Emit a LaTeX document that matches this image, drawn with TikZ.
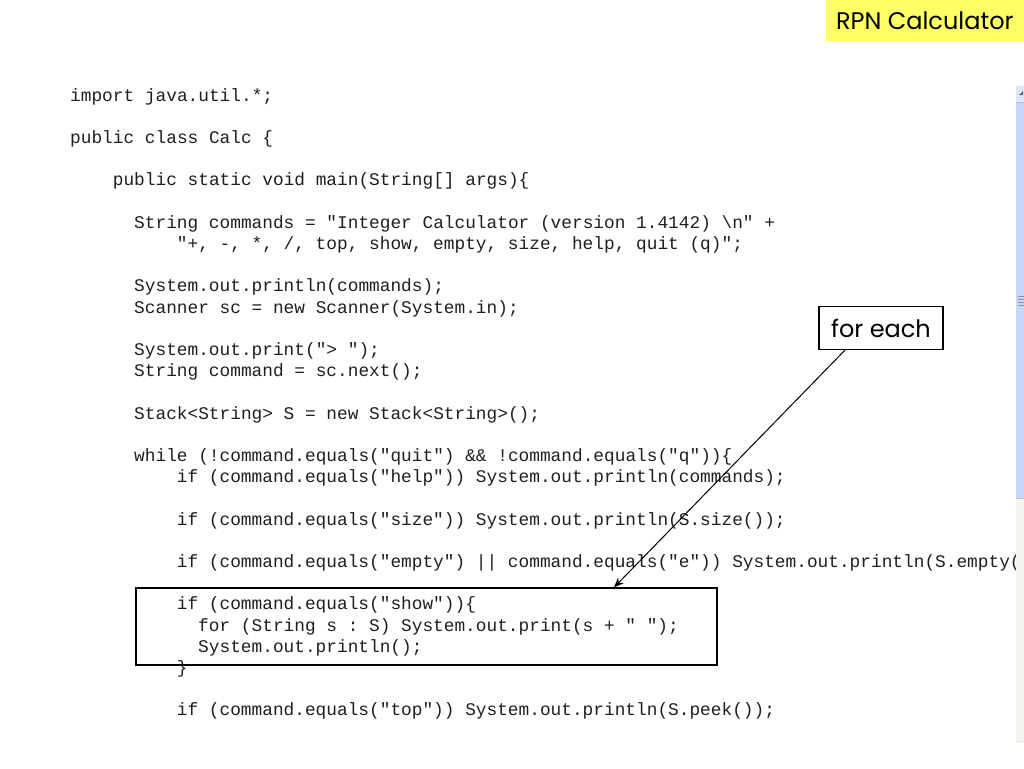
\documentclass[tikz,border=0pt]{standalone}
\usepackage{fontspec}
\setmonofont{Liberation Mono}
\newfontfamily\notefont{Poppins}
\usetikzlibrary{arrows.meta,calc}
\definecolor{hl}{RGB}{255,255,102}
\definecolor{thumb}{RGB}{200,214,248}
\definecolor{track}{RGB}{244,243,238}
\definecolor{btn}{RGB}{222,231,250}
\newcommand{\cx}[1]{70+10.67*#1}
\newcommand{\cy}[1]{101+21.2*#1}
\tikzset{
  code/.style={anchor=base west, inner sep=0pt, font=\ttfamily\fontsize{17.8}{21}\selectfont, text=black!88},
  note/.style={font=\notefont\fontsize{24}{28}\selectfont, text=black},
  notebox/.style={draw=black, line width=1.1pt, inner sep=0pt},
  conn/.style={draw=black, line width=1pt, -{Stealth[length=10pt,width=8pt]}}
}
\begin{document}
\begin{tikzpicture}[x=1pt,y=-1pt]
\useasboundingbox (0,0) rectangle (1024,768);
\fill[white] (0,0) rectangle (1024,768);
% code lines
\node[code] (l0) at ({\cx{0}},{\cy{0}}) {import java.util.*;};
\node[code] (l2) at ({\cx{0}},{\cy{2}}) {public class Calc \{};
\node[code] (l4) at ({\cx{4}},{\cy{4}}) {public static void main(String[] args)\{};
\node[code] (l6) at ({\cx{6}},{\cy{6}}) {String commands = "Integer Calculator (version 1.4142) \textbackslash{}n" +};
\node[code] (l7) at ({\cx{10}},{\cy{7}}) {"+, -, *, /, top, show, empty, size, help, quit (q)";};
\node[code] (l9) at ({\cx{6}},{\cy{9}}) {System.out.println(commands);};
\node[code] (l10) at ({\cx{6}},{\cy{10}}) {Scanner sc = new Scanner(System.in);};
\node[code] (l12) at ({\cx{6}},{\cy{12}}) {System.out.print("> ");};
\node[code] (l13) at ({\cx{6}},{\cy{13}}) {String command = sc.next();};
\node[code] (l15) at ({\cx{6}},{\cy{15}}) {Stack<String> S = new Stack<String>();};
\node[code] (l17) at ({\cx{6}},{\cy{17}}) {while (!command.equals("quit") \&\& !command.equals("q"))\{};
\node[code] (l18) at ({\cx{10}},{\cy{18}}) {if (command.equals("help")) System.out.println(commands);};
\node[code] (l20) at ({\cx{10}},{\cy{20}}) {if (command.equals("size")) System.out.println(S.size());};
\node[code] (l22) at ({\cx{10}},{\cy{22}}) {if (command.equals("empty") || command.equals("e")) System.out.println(S.empty(};
\node[code] (l24) at ({\cx{10}},{\cy{24}}) {if (command.equals("show"))\{};
\node[code] (l25) at ({\cx{12}},{\cy{25}}) {for (String s : S) System.out.print(s + " ");};
\node[code] (l26) at ({\cx{12}},{\cy{26}}) {System.out.println();};
\node[code] (l27) at ({\cx{10}},{\cy{27}}) {\}};
\node[code] (l29) at ({\cx{10}},{\cy{29}}) {if (command.equals("top")) System.out.println(S.peek());};
% scrollbar
\fill[track] (1016,86) rectangle (1024,743);
\fill[thumb] (1016,102) rectangle (1024,498);
\draw[black!25, line width=0.6pt] (1016,498) -- (1024,498);
\fill[btn] (1016,86) rectangle (1024,102);
\draw[black!25, line width=0.6pt] (1016,102) -- (1024,102);
\fill[black!60] (1019,95) -- (1023,91) -- (1023,95) -- cycle;
\foreach \gy in {296,299,302,305} \draw[white!70!thumb!60!black, line width=0.6pt] (1018,\gy) -- (1024,\gy);
% title
\node[fill=hl, anchor=north east, minimum width=198pt, minimum height=41pt, inner sep=0pt, note] (title) at (1024,0) {RPN Calculator};
% callout
\node[notebox, note, minimum width=124pt, minimum height=43pt] (fe) at (881,328) {for each};
\node[notebox, minimum width=581pt, minimum height=77pt] (showbox) at (426.5,626.5) {};
\draw[conn] ([xshift=-36pt]fe.south) -- ([xshift=187.5pt]showbox.north);
\end{tikzpicture}
\end{document}
